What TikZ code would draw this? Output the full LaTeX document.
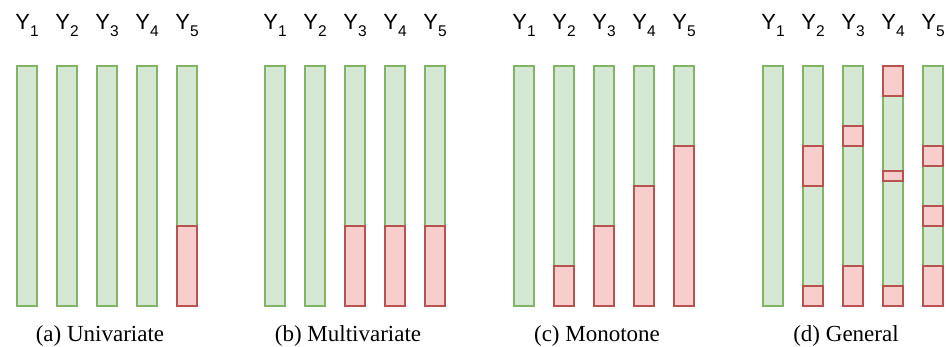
\documentclass[tikz,border=0pt]{standalone}
\usepackage{fontspec}
\setmainfont{Liberation Serif}
\setsansfont{Liberation Sans}
\usepackage{tikz}

\definecolor{okfill}{HTML}{D5E8D4}
\definecolor{okline}{HTML}{82B366}
\definecolor{missfill}{HTML}{F8CECC}
\definecolor{missline}{HTML}{B85450}

\newcommand{\ylab}[1]{Y\raisebox{-0.28em}{\fontsize{15.5}{15.5}\selectfont #1}}

\begin{document}
\begin{tikzpicture}[x=1pt, y=-1pt,
        ok/.style={draw=okline, fill=okfill, line width=1.5pt},
        miss/.style={draw=missline, fill=missfill, line width=1.5pt},
        ylabel/.style={anchor=base, font=\sffamily\fontsize{22}{22}\selectfont, inner sep=0pt},
        caption/.style={anchor=base, font=\fontsize{23}{23}\selectfont, inner sep=0pt}]
        \useasboundingbox (0,0) rectangle (947,347);
        % observed columns
        \foreach \ox/\p in {17/a, 265/b, 514/c, 763/d}{
            \foreach \i in {1,...,5}{
                \node[ylabel] (\p-y\i) at ({\ox+40*\i-30}, 30) {\ylab{\i}};
                \draw[ok] ({\ox+40*\i-40}, 66) rectangle ++(20, 240);
            }
        }
        % (a) univariate
        \draw[miss] (177, 226) rectangle (197, 306);
        % (b) multivariate
        \draw[miss] (345, 226) rectangle (365, 306);
        \draw[miss] (385, 226) rectangle (405, 306);
        \draw[miss] (425, 226) rectangle (445, 306);
        % (c) monotone
        \draw[miss] (554, 266) rectangle (574, 306);
        \draw[miss] (594, 226) rectangle (614, 306);
        \draw[miss] (634, 186) rectangle (654, 306);
        \draw[miss] (674, 146) rectangle (694, 306);
        % (d) general
        \draw[miss] (803, 146) rectangle (823, 186); \draw[miss] (803, 286) rectangle (823, 306);
        \draw[miss] (843, 126) rectangle (863, 146); \draw[miss] (843, 266) rectangle (863, 306);
        \draw[miss] (883, 66) rectangle (903, 96); \draw[miss] (883, 171) rectangle (903, 181); \draw[miss] (883, 286) rectangle (903, 306);
        \draw[miss] (923, 146) rectangle (943, 166); \draw[miss] (923, 206) rectangle (943, 226); \draw[miss] (923, 266) rectangle (943, 306);
        % captions
        \node[caption] (cap-a) at (100, 341) {(a) Univariate};
        \node[caption] (cap-b) at (348, 341) {(b) Multivariate};
        \node[caption] (cap-c) at (597, 341) {(c) Monotone};
        \node[caption] (cap-d) at (846, 341) {(d) General};
\end{tikzpicture}
\end{document}
